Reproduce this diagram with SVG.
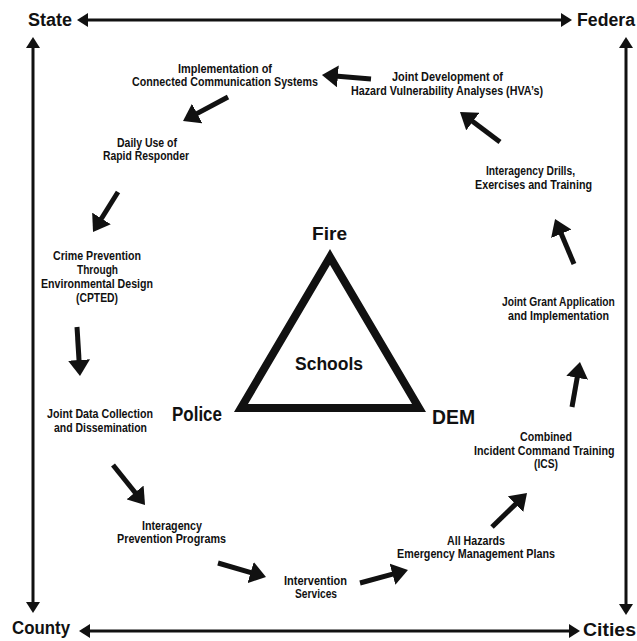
<svg xmlns="http://www.w3.org/2000/svg" width="637" height="641" viewBox="0 0 637 641">
<defs>
<style>
text{font-family:"Liberation Sans",Arial,sans-serif;font-weight:bold;fill:#111}
.s{font-size:12.5px}
.b{font-size:18px}
.c{font-size:20px}
.conn line{stroke:#111;stroke-width:5}
.frame line{stroke:#111;stroke-width:3}
</style>
<marker id="ah" viewBox="0 0 16 22" markerWidth="16" markerHeight="22" refX="3" refY="11" orient="auto" markerUnits="userSpaceOnUse"><path d="M0,0 L16,11 L0,22 z" fill="#111"/></marker>
<marker id="fh" viewBox="0 0 11 14" markerWidth="11" markerHeight="14" refX="2" refY="7" orient="auto-start-reverse" markerUnits="userSpaceOnUse"><path d="M0,0 L11,7 L0,14 z" fill="#111"/></marker>
</defs>
<rect width="637" height="641" fill="#fff"/>
<g id="frame" class="frame">
<line x1="86" y1="20" x2="563" y2="20" marker-start="url(#fh)" marker-end="url(#fh)"/>
<line x1="88" y1="631" x2="571" y2="631" marker-start="url(#fh)" marker-end="url(#fh)"/>
<line x1="33" y1="46" x2="33" y2="604" marker-start="url(#fh)" marker-end="url(#fh)"/>
<line x1="626" y1="46" x2="626" y2="606" marker-start="url(#fh)" marker-end="url(#fh)"/>
</g>
<g id="corner-labels">
<text class="b" x="28" y="26" textLength="44" lengthAdjust="spacingAndGlyphs">State</text>
<text class="b" x="577" y="26" textLength="58" lengthAdjust="spacingAndGlyphs">Federa</text>
<text class="b" x="12" y="634" textLength="58" lengthAdjust="spacingAndGlyphs">County</text>
<text class="b" x="583" y="636" textLength="53" lengthAdjust="spacingAndGlyphs">Cities</text>
</g>
<g id="center">
<polygon points="330,257 241,408 419,408" fill="none" stroke="#111" stroke-width="8" stroke-linejoin="miter"/>
<text class="b" x="312" y="240" textLength="35" lengthAdjust="spacingAndGlyphs">Fire</text>
<text class="b" x="295" y="370" textLength="68" lengthAdjust="spacingAndGlyphs">Schools</text>
<text class="c" x="172" y="421" textLength="50" lengthAdjust="spacingAndGlyphs">Police</text>
<text class="c" x="432" y="424" textLength="43" lengthAdjust="spacingAndGlyphs">DEM</text>
</g>
<g id="n-impl">
<text class="s" x="178" y="73" textLength="94" lengthAdjust="spacingAndGlyphs">Implementation of</text>
<text class="s" x="132" y="86" textLength="186" lengthAdjust="spacingAndGlyphs">Connected Communication Systems</text>
</g>
<g id="n-hva">
<text class="s" x="392" y="81" textLength="111" lengthAdjust="spacingAndGlyphs">Joint Development of</text>
<text class="s" x="351" y="95" textLength="192" lengthAdjust="spacingAndGlyphs">Hazard Vulnerability Analyses (HVA’s)</text>
</g>
<g id="n-drills">
<text class="s" x="486" y="175" textLength="89" lengthAdjust="spacingAndGlyphs">Interagency Drills,</text>
<text class="s" x="475" y="189" textLength="117" lengthAdjust="spacingAndGlyphs">Exercises and Training</text>
</g>
<g id="n-grant">
<text class="s" transform="translate(502,306) scale(0.82,1)">Joint Grant Application</text>
<text class="s" x="508" y="320" textLength="101" lengthAdjust="spacingAndGlyphs">and Implementation</text>
</g>
<g id="n-ics">
<text class="s" x="520" y="441" textLength="52" lengthAdjust="spacingAndGlyphs">Combined</text>
<text class="s" transform="translate(474,455) scale(0.855,1)">Incident Command Training</text>
<text class="s" x="534" y="468" textLength="24" lengthAdjust="spacingAndGlyphs">(ICS)</text>
</g>
<g id="n-ahem">
<text class="s" x="447" y="545" textLength="58" lengthAdjust="spacingAndGlyphs">All Hazards</text>
<text class="s" x="397" y="558" textLength="158" lengthAdjust="spacingAndGlyphs">Emergency Management Plans</text>
</g>
<g id="n-interv">
<text class="s" x="284" y="585" textLength="63" lengthAdjust="spacingAndGlyphs">Intervention</text>
<text class="s" x="295" y="598" textLength="42" lengthAdjust="spacingAndGlyphs">Services</text>
</g>
<g id="n-iapp">
<text class="s" x="142" y="530" textLength="60" lengthAdjust="spacingAndGlyphs">Interagency</text>
<text class="s" x="117" y="543" textLength="109" lengthAdjust="spacingAndGlyphs">Prevention Programs</text>
</g>
<g id="n-jdc">
<text class="s" x="47" y="418" textLength="106" lengthAdjust="spacingAndGlyphs">Joint Data Collection</text>
<text class="s" x="54" y="432" textLength="93" lengthAdjust="spacingAndGlyphs">and Dissemination</text>
</g>
<g id="n-cpted">
<text class="s" x="53" y="260" textLength="88" lengthAdjust="spacingAndGlyphs">Crime Prevention</text>
<text class="s" x="77" y="274" textLength="41" lengthAdjust="spacingAndGlyphs">Through</text>
<text class="s" x="41" y="288" textLength="112" lengthAdjust="spacingAndGlyphs">Environmental Design</text>
<text class="s" x="76" y="302" textLength="42" lengthAdjust="spacingAndGlyphs">(CPTED)</text>
</g>
<g id="n-daily">
<text class="s" x="117" y="147" textLength="60" lengthAdjust="spacingAndGlyphs">Daily Use of</text>
<text class="s" x="103" y="160" textLength="86" lengthAdjust="spacingAndGlyphs">Rapid Responder</text>
</g>
<g id="connectors" class="conn">
<line x1="371" y1="79" x2="334.9" y2="76.1" marker-end="url(#ah)"/>
<line x1="228" y1="97" x2="194.5" y2="114.9" marker-end="url(#ah)"/>
<line x1="118" y1="192" x2="99.9" y2="221" marker-end="url(#ah)"/>
<line x1="77" y1="327" x2="79.2" y2="363" marker-end="url(#ah)"/>
<line x1="113" y1="465" x2="136.9" y2="494.8" marker-end="url(#ah)"/>
<line x1="218" y1="563" x2="253.5" y2="573.4" marker-end="url(#ah)"/>
<line x1="360" y1="583" x2="395.4" y2="573.4" marker-end="url(#ah)"/>
<line x1="492" y1="527" x2="517.7" y2="502.1" marker-end="url(#ah)"/>
<line x1="572" y1="407" x2="577.7" y2="374.8" marker-end="url(#ah)"/>
<line x1="574" y1="264" x2="560.1" y2="231" marker-end="url(#ah)"/>
<line x1="500" y1="142" x2="470.4" y2="119.8" marker-end="url(#ah)"/>
</g>
</svg>
